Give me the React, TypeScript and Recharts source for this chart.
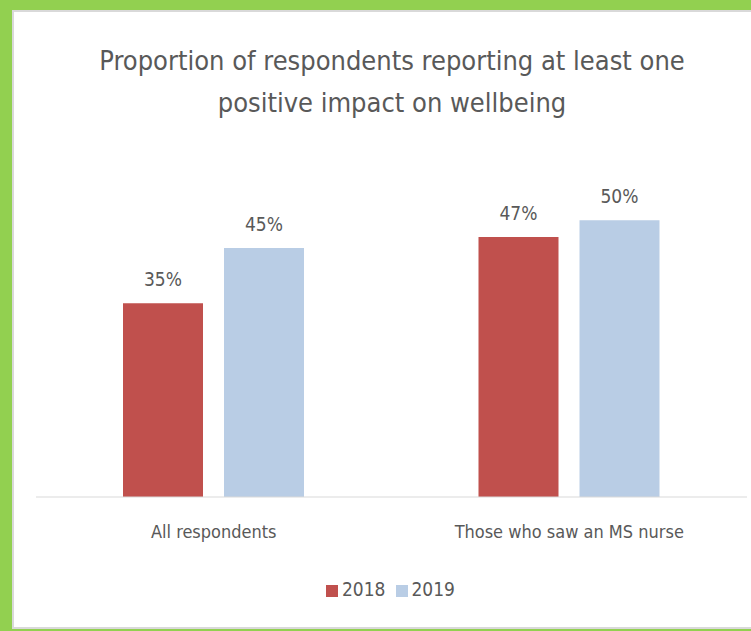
import { BarChart, Bar, XAxis, YAxis, Legend, LabelList } from 'recharts';

const categories = ['All respondents', 'Those who saw an MS nurse'];
const values2018 = [35, 47];
const values2019 = [45, 50];

const data = categories.map((name, i) => ({
  name,
  y2018: values2018[i],
  y2019: values2019[i],
}));

const FONT = '"Liberation Sans Narrow", "DejaVu Sans Condensed", "Open Sans", sans-serif';
const TEXT = '#595959';

export default function App() {
  return (
    <div style={{ position: 'absolute', left: 0, top: 0, width: 751, height: 631, background: '#92D050', fontFamily: FONT }}>
      <div
        style={{
          position: 'absolute',
          left: 12,
          top: 10,
          width: 739,
          height: 619,
          background: '#fff',
          borderLeft: '2px solid #d9d9d9',
          borderTop: '2px solid #d9d9d9',
          borderBottom: '2px solid #d9d9d9',
          boxSizing: 'border-box',
        }}
      />
      <div
        style={{
          position: 'absolute',
          left: 14,
          top: 40,
          width: 737,
          textAlign: 'center',
          color: TEXT,
          fontSize: 27,
          lineHeight: '42px',
          paddingLeft: 19,
          boxSizing: 'border-box',
        }}
      >
        Proportion of respondents reporting at least one
        <br />
        positive impact on wellbeing
      </div>
      <div style={{ position: 'absolute', left: 0, top: 0 }}>
        <BarChart
          width={751}
          height={631}
          data={data}
          margin={{ top: 165, right: 4, left: 36, bottom: 82 }}
          barSize={80}
          barGap={21}
        >
          <XAxis
            dataKey="name"
            axisLine={{ stroke: '#d9d9d9', strokeWidth: 1 }}
            tickLine={false}
            tick={{ fill: TEXT, fontSize: 18, fontFamily: FONT }}
            tickMargin={22}
          />
          <YAxis hide domain={[0, 60]} />
          <Legend
            verticalAlign="bottom"
            iconType="square"
            iconSize={12}
            wrapperStyle={{ bottom: 31, left: 20, width: 751, fontSize: 19, fontFamily: FONT }}
            formatter={(value) => <span style={{ color: TEXT }}>{value}</span>}
          />
          <Bar dataKey="y2018" name="2018" fill="#C0504D" isAnimationActive={false}>
            <LabelList dataKey="y2018" position="top" offset={17} formatter={(v) => `${v}%`} style={{ fill: TEXT, fontSize: 19, fontFamily: FONT }} />
          </Bar>
          <Bar dataKey="y2019" name="2019" fill="#B9CDE5" isAnimationActive={false}>
            <LabelList dataKey="y2019" position="top" offset={17} formatter={(v) => `${v}%`} style={{ fill: TEXT, fontSize: 19, fontFamily: FONT }} />
          </Bar>
        </BarChart>
      </div>
    </div>
  );
}
